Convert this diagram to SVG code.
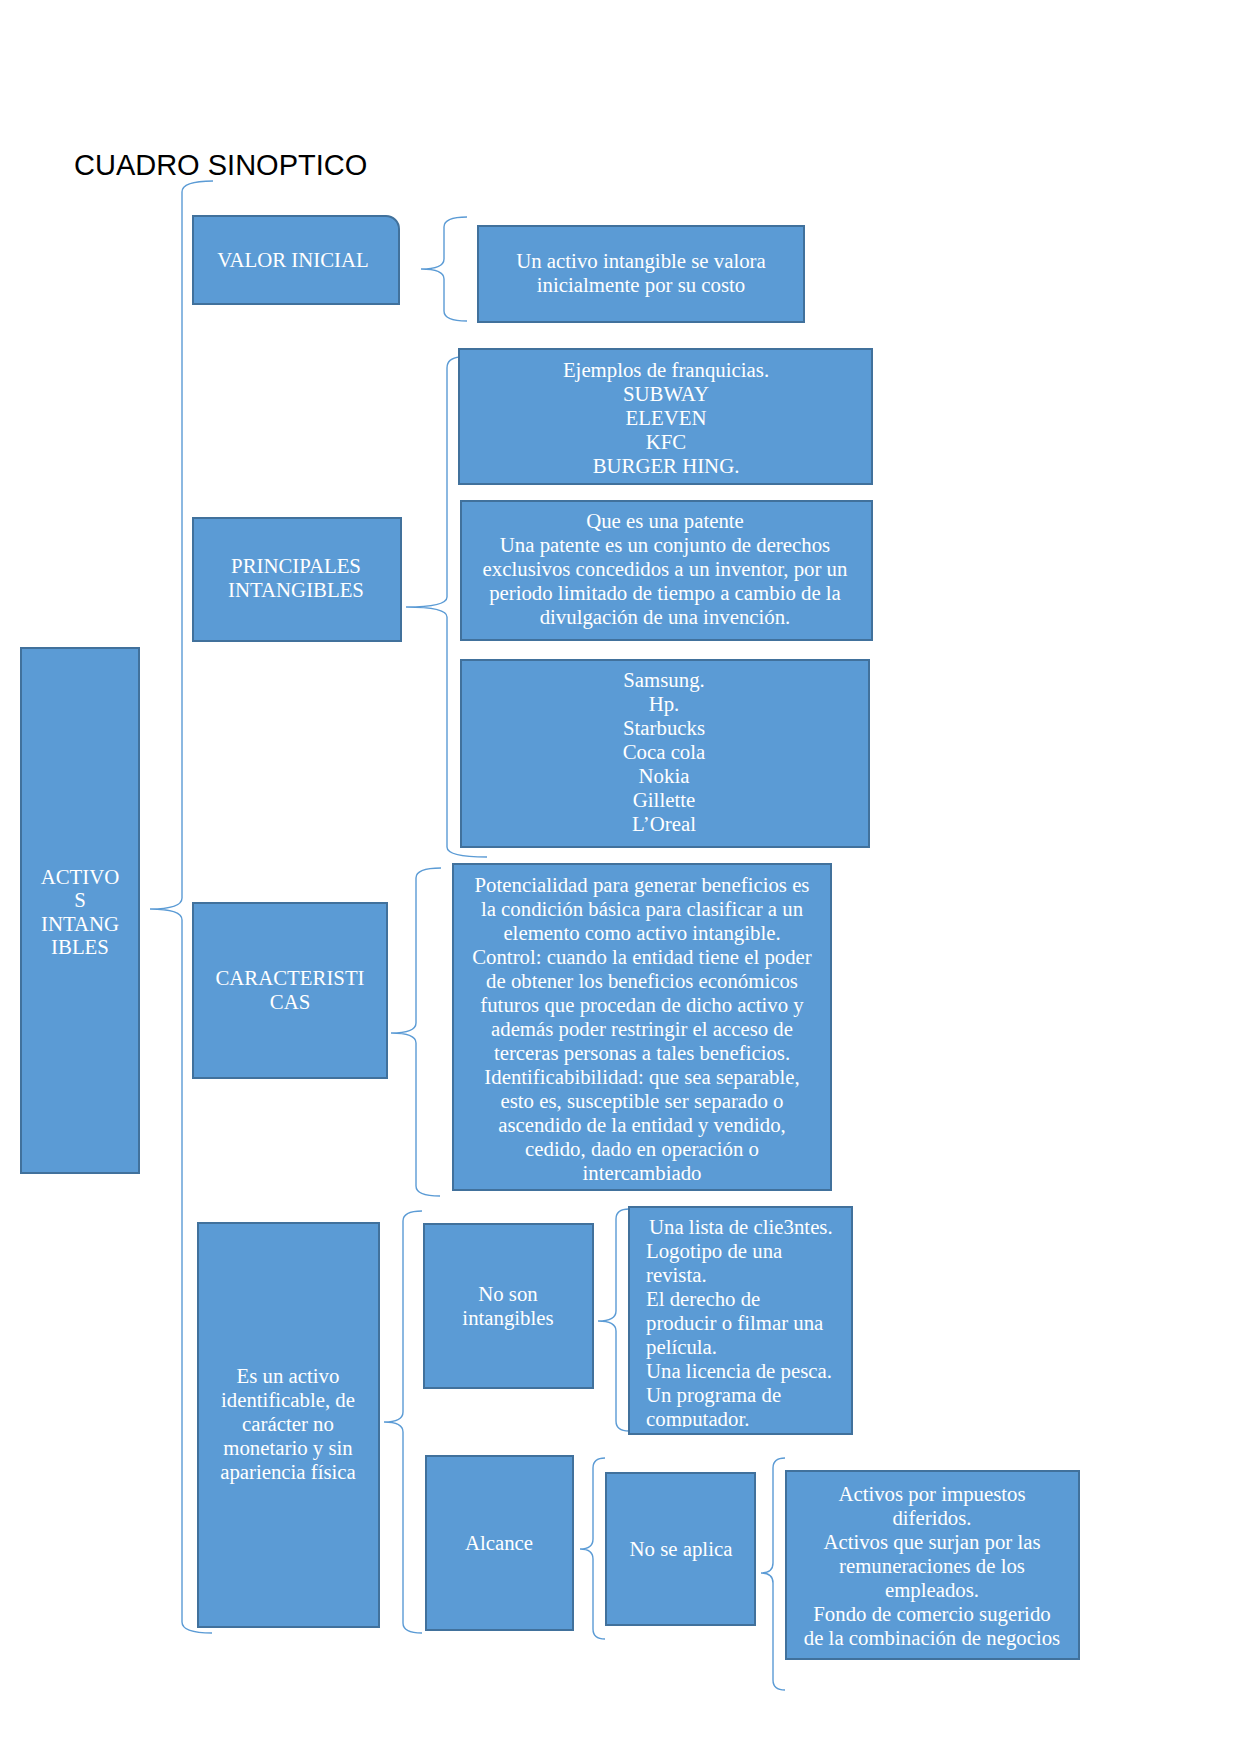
<svg xmlns="http://www.w3.org/2000/svg" width="1241" height="1755" viewBox="0 0 1241 1755">
<style>
.box{fill:#5B9BD5;stroke:#41719C;stroke-width:2}
.br{fill:none;stroke:#5B9BD5;stroke-width:1.4}
.t{font-family:"Liberation Serif","Times New Roman",serif;font-size:20.8px;fill:#FFFFFF;text-anchor:middle}
.tl{font-family:"Liberation Serif","Times New Roman",serif;font-size:20.8px;fill:#FFFFFF}
.title{font-family:"Liberation Sans",Arial,sans-serif;font-size:29px;fill:#000000}
</style>
<defs>
<clipPath id="clipList"><rect x="629" y="1207" width="223" height="220"/></clipPath>
</defs>
<rect width="1241" height="1755" fill="#FFFFFF"/>
<text class="title" x="74" y="175">CUADRO SINOPTICO</text>

<g id="connectors">
<path class="br" d="M213,181 Q182,181 182,192 L182,898 Q182,909 150,909 Q182,909 182,920 L182,1622 Q182,1633 212,1633"/>
<path class="br" d="M467,217 Q444,217 444,227 L444,259 Q444,269 421,269 Q444,269 444,279 L444,311 Q444,321 467,321"/>
<path class="br" d="M460,357 Q447,358 447,368 L447,597 Q447,607 406,607 Q447,607 447,617 L447,847 Q447,857 487,857"/>
<path class="br" d="M441,868 Q416,868 416,878 L416,1023 Q416,1033 391,1033 Q416,1033 416,1043 L416,1186 Q416,1196 440,1196"/>
<path class="br" d="M422,1211 Q403,1211 403,1221 L403,1412 Q403,1422 384,1422 Q403,1422 403,1432 L403,1623 Q403,1633 422,1633"/>
<path class="br" d="M629,1209 Q616,1209 616,1219 L616,1311 Q616,1321 598,1321 Q616,1321 616,1331 L616,1421 Q616,1431 629,1431"/>
<path class="br" d="M605,1458 Q593,1458 593,1468 L593,1539 Q593,1549 580,1549 Q593,1549 593,1559 L593,1629 Q593,1639 605,1639"/>
<path class="br" d="M785,1458 Q773,1458 773,1468 L773,1563 Q773,1573 761,1573 Q773,1573 773,1583 L773,1680 Q773,1690 785,1690"/>
</g>

<g id="activos">
<rect class="box" x="21" y="648" width="118" height="525"/>
<text class="t" x="80" y="884">ACTIVO</text>
<text class="t" x="80" y="907">S</text>
<text class="t" x="80" y="931">INTANG</text>
<text class="t" x="80" y="954">IBLES</text>
</g>

<g id="valor-inicial">
<path class="box" d="M193,216 H386 A13,13 0 0 1 399,229 V304 H193 Z"/>
<text class="t" x="293" y="267">VALOR INICIAL</text>
</g>

<g id="valor-texto">
<rect class="box" x="478" y="226" width="326" height="96"/>
<text class="t" x="641" y="268">Un activo intangible se valora</text>
<text class="t" x="641" y="292">inicialmente por su costo</text>
</g>

<g id="principales">
<rect class="box" x="193" y="518" width="208" height="123"/>
<text class="t" x="296" y="573">PRINCIPALES</text>
<text class="t" x="296" y="597">INTANGIBLES</text>
</g>

<g id="franquicias">
<rect class="box" x="459" y="349" width="413" height="135"/>
<text class="t" x="666" y="377">Ejemplos de franquicias.</text>
<text class="t" x="666" y="401">SUBWAY</text>
<text class="t" x="666" y="425">ELEVEN</text>
<text class="t" x="666" y="449">KFC</text>
<text class="t" x="666" y="473">BURGER HING.</text>
</g>

<g id="patente">
<rect class="box" x="461" y="501" width="411" height="139"/>
<text class="t" x="665" y="528">Que es una patente</text>
<text class="t" x="665" y="552">Una patente es un conjunto de derechos</text>
<text class="t" x="665" y="576">exclusivos concedidos a un inventor, por un</text>
<text class="t" x="665" y="600">periodo limitado de tiempo a cambio de la</text>
<text class="t" x="665" y="624">divulgación de una invención.</text>
</g>

<g id="marcas">
<rect class="box" x="461" y="660" width="408" height="187"/>
<text class="t" x="664" y="687">Samsung.</text>
<text class="t" x="664" y="711">Hp.</text>
<text class="t" x="664" y="735">Starbucks</text>
<text class="t" x="664" y="759">Coca cola</text>
<text class="t" x="664" y="783">Nokia</text>
<text class="t" x="664" y="807">Gillette</text>
<text class="t" x="664" y="831">L’Oreal</text>
</g>

<g id="caracteristicas">
<rect class="box" x="193" y="903" width="194" height="175"/>
<text class="t" x="290" y="985">CARACTERISTI</text>
<text class="t" x="290" y="1009">CAS</text>
</g>

<g id="caracteristicas-texto">
<rect class="box" x="453" y="864" width="378" height="326"/>
<text class="t" x="642" y="892">Potencialidad para generar beneficios es</text>
<text class="t" x="642" y="916">la condición básica para clasificar a un</text>
<text class="t" x="642" y="940">elemento como activo intangible.</text>
<text class="t" x="642" y="964">Control: cuando la entidad tiene el poder</text>
<text class="t" x="642" y="988">de obtener los beneficios económicos</text>
<text class="t" x="642" y="1012">futuros que procedan de dicho activo y</text>
<text class="t" x="642" y="1036">además poder restringir el acceso de</text>
<text class="t" x="642" y="1060">terceras personas a tales beneficios.</text>
<text class="t" x="642" y="1084">Identificabibilidad: que sea separable,</text>
<text class="t" x="642" y="1108">esto es, susceptible ser separado o</text>
<text class="t" x="642" y="1132">ascendido de la entidad y vendido,</text>
<text class="t" x="642" y="1156">cedido, dado en operación o</text>
<text class="t" x="642" y="1180">intercambiado</text>
</g>

<g id="definicion">
<rect class="box" x="198" y="1223" width="181" height="404"/>
<text class="t" x="288" y="1383">Es un activo</text>
<text class="t" x="288" y="1407">identificable, de</text>
<text class="t" x="288" y="1431">carácter no</text>
<text class="t" x="288" y="1455">monetario y sin</text>
<text class="t" x="288" y="1479">apariencia física</text>
</g>

<g id="no-son">
<rect class="box" x="424" y="1224" width="169" height="164"/>
<text class="t" x="508" y="1301">No son</text>
<text class="t" x="508" y="1325">intangibles</text>
</g>

<g id="lista">
<rect class="box" x="629" y="1207" width="223" height="227"/>
<g clip-path="url(#clipList)">
<text class="tl" x="649" y="1234">Una lista de clie3ntes.</text>
<text class="tl" x="646" y="1258">Logotipo de una</text>
<text class="tl" x="646" y="1282">revista.</text>
<text class="tl" x="646" y="1306">El derecho de</text>
<text class="tl" x="646" y="1330">producir o filmar una</text>
<text class="tl" x="646" y="1354">película.</text>
<text class="tl" x="646" y="1378">Una licencia de pesca.</text>
<text class="tl" x="646" y="1402">Un programa de</text>
<text class="tl" x="646" y="1426">computador.</text>
</g>
</g>

<g id="alcance">
<rect class="box" x="426" y="1456" width="147" height="174"/>
<text class="t" x="499" y="1550">Alcance</text>
</g>

<g id="no-se-aplica">
<rect class="box" x="606" y="1473" width="149" height="152"/>
<text class="t" x="681" y="1556">No se aplica</text>
</g>

<g id="excluidos">
<rect class="box" x="786" y="1471" width="293" height="188"/>
<text class="t" x="932" y="1501">Activos por impuestos</text>
<text class="t" x="932" y="1525">diferidos.</text>
<text class="t" x="932" y="1549">Activos que surjan por las</text>
<text class="t" x="932" y="1573">remuneraciones de los</text>
<text class="t" x="932" y="1597">empleados.</text>
<text class="t" x="932" y="1621">Fondo de comercio sugerido</text>
<text class="t" x="932" y="1645">de la combinación de negocios</text>
</g>
</svg>
